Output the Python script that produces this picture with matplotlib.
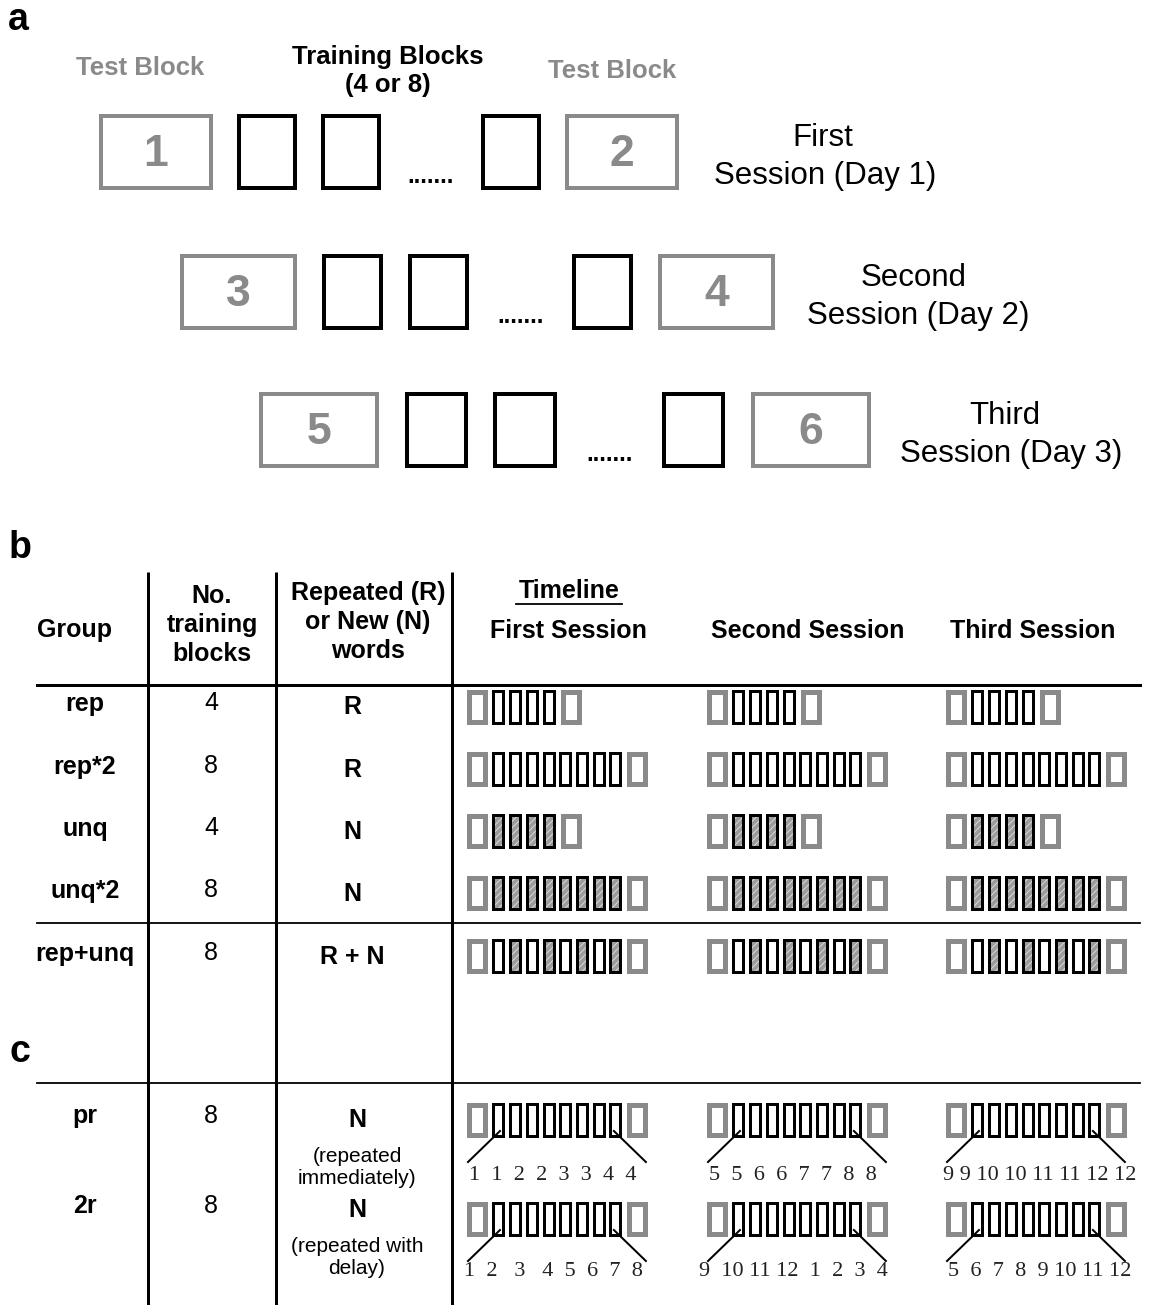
import matplotlib.pyplot as plt
from matplotlib.patches import Rectangle

plt.rcParams['font.family'] = ['Liberation Sans', 'DejaVu Sans']
plt.rcParams['hatch.linewidth'] = 0.7

GRAY = '#8a8a8a'
PX = 0.72  # points per pixel at dpi 100

# panel a
test_numbers = [(1, 2), (3, 4), (5, 6)]
session_names = ['First', 'Second', 'Third']
session_days = ['Session (Day 1)', 'Session (Day 2)', 'Session (Day 3)']

# panel b
groups = ['rep', 'rep*2', 'unq', 'unq*2', 'rep+unq']
n_blocks = [4, 8, 4, 8, 8]
word_type = ['R', 'R', 'N', 'N', 'R + N']
block_kind = ['RRRR', 'RRRRRRRR', 'NNNN', 'NNNNNNNN', 'RNRNRNRN']
timeline_headers = ['First Session', 'Second Session', 'Third Session']

# panel c
c_groups = ['pr', '2r']
c_blocks = [8, 8]
c_words = ['N', 'N']
c_notes = ['(repeated\nimmediately)', '(repeated with\ndelay)']
c_word_lists = [
    ['1  1  2  2  3  3  4  4', '5  5  6  6  7  7  8  8', '9 9 10 10 11 11 12 12'],
    ['1  2   3   4  5  6  7  8', '9  10 11 12  1  2  3  4', '5  6  7  8  9 10 11 12'],
]


def box(ax, x, y, w, h, color, lw_px, hatch=False):
    # x, y, w, h are outer extents in pixels
    if hatch:
        ax.add_patch(Rectangle((x + lw_px / 2, y + lw_px / 2), w - lw_px, h - lw_px,
                               facecolor='#9c9c9c', edgecolor='#d9d9d9',
                               hatch='/////', linewidth=0))
    ax.add_patch(Rectangle((x + lw_px / 2, y + lw_px / 2), w - lw_px, h - lw_px,
                           fill=False, edgecolor=color, linewidth=lw_px * PX))


def timeline(ax, x0, yc, kinds):
    h = 35
    y = yc - h / 2
    box(ax, x0, y, 21, h, GRAY, 5)
    xs = []
    for i, k in enumerate(kinds):
        bx = x0 + 25 + 16.7 * i
        box(ax, bx, y, 13, h, 'black', 3, hatch=(k == 'N'))
        xs.append(bx)
    box(ax, xs[-1] + 13 + 5, y, 21, h, GRAY, 5)
    return xs


fig = plt.figure(figsize=(11.51, 13.05), dpi=100)
ax = fig.add_axes([0, 0, 1, 1])
ax.set_xlim(0, 1151)
ax.set_ylim(1305, 0)
ax.axis('off')

# ---------- panel a ----------
ax.text(18, 20, 'a', fontsize=27, fontweight='bold', ha='center', va='center')
ax.text(140, 68, 'Test Block', fontsize=18.5, fontweight='bold', color=GRAY,
        ha='center', va='center')
ax.text(388, 71, 'Training Blocks\n(4 or 8)', fontsize=18.5, fontweight='bold',
        ha='center', va='center', linespacing=1.2)
ax.text(612, 71, 'Test Block', fontsize=18.5, fontweight='bold', color=GRAY,
        ha='center', va='center')

row_x = [99, 180, 259]
row_y = [114, 254, 392]
row_scale = [1.0, 1.026, 1.055]
for i, (t1, t2) in enumerate(test_numbers):
    x, y, h, s = row_x[i], row_y[i], 76, row_scale[i]
    tw, bw, gap = 114 * s, 60 * s, 24 * s
    box(ax, x, y, tw, h, GRAY, 4)
    ax.text(x + tw / 2, y + h / 2 + 2, str(t1), fontsize=32, fontweight='bold',
            color=GRAY, ha='center', va='center')
    x += tw + gap
    for j in range(2):
        box(ax, x, y, bw, h, 'black', 4)
        x += bw + gap
    ax.text(x + 26 * s, y + h - 2, '.......', fontsize=17, fontweight='bold',
            ha='center', va='bottom')
    x += 76 * s
    box(ax, x, y, bw, h, 'black', 4)
    x += bw + gap
    box(ax, x, y, tw, h, GRAY, 4)
    ax.text(x + tw / 2, y + h / 2 + 2, str(t2), fontsize=32, fontweight='bold',
            color=GRAY, ha='center', va='center')
    xr = x + tw + 146 - 3 * i
    ax.text(xr - 2 - 2 * i, y + 24, session_names[i], fontsize=22.5,
            ha='center', va='center')
    ax.text(xr, y + 62, session_days[i], fontsize=22.5, ha='center', va='center')

# ---------- panel b ----------
ax.text(20, 548, 'b', fontsize=27, fontweight='bold', ha='center', va='center')
for xv in [148, 276, 452]:
    ax.plot([xv, xv], [572, 1305], color='black', lw=3 * PX, solid_capstyle='butt')
ax.plot([37, 1140], [685, 685], color='black', lw=3 * PX)
ax.plot([37, 1140], [923, 923], color='black', lw=1.8 * PX)
ax.plot([37, 1140], [1083, 1083], color='black', lw=1.8 * PX)

hdr = dict(fontsize=18, fontweight='bold', ha='center', va='center')
ax.text(75, 630, 'Group', **hdr)
ax.text(212, 625, 'No.\ntraining\nblocks', linespacing=1.25, **hdr)
ax.text(368, 622, 'Repeated (R)\nor New (N)\nwords', linespacing=1.25, **hdr)
ax.text(569, 591, 'Timeline', **hdr)
ax.plot([516, 622], [604, 604], color='black', lw=1.8 * PX)
for sx, name in zip([568, 808, 1033], timeline_headers):
    ax.text(sx, 631, name, **hdr)

session_x = [467, 707, 946]
row_yc = [706.5, 769, 831, 893, 956]
for g, nb, wt, kinds, yc in zip(groups, n_blocks, word_type, block_kind, row_yc):
    ax.text(85, yc - 2, g, fontsize=18, fontweight='bold', ha='center', va='center')
    ax.text(211, yc - 3, str(nb), fontsize=18, ha='center', va='center')
    ax.text(352, yc + 1, wt, fontsize=18, fontweight='bold', ha='center', va='center')
    for sx in session_x:
        timeline(ax, sx, yc, kinds)

# ---------- panel c ----------
ax.text(20, 1052, 'c', fontsize=27, fontweight='bold', ha='center', va='center')
c_text_y = [1118, 1208]
c_row_yc = [1120, 1219]
for k, (g, nb, wd, note) in enumerate(zip(c_groups, c_blocks, c_words, c_notes)):
    ty, yc = c_text_y[k], c_row_yc[k]
    ax.text(85, ty - 2, g, fontsize=18, fontweight='bold', ha='center', va='center')
    ax.text(211, ty - 2, str(nb), fontsize=18, ha='center', va='center')
    ax.text(357, ty + 2, wd, fontsize=18, fontweight='bold', ha='center', va='center')
    ax.text(357, ty + 50, note, fontsize=15, ha='center', va='center', linespacing=1.2)
    for j, (sx, words) in enumerate(zip(session_x, c_word_lists[k])):
        xs = timeline(ax, sx, yc, 'R' * nb)
        ax.plot([xs[0] + 8, xs[0] - 24], [yc + 11, yc + 42], color='black', lw=2 * PX)
        ax.plot([xs[-1] + 5, xs[-1] + 37], [yc + 11, yc + 42], color='black', lw=2 * PX)
        ax.text(sx + 86 + 8 * (j == 2), yc + 55 - 2 * k, words, fontsize=16,
                family=['Liberation Serif'], ha='center', va='center', color='#222222')

fig.savefig('out.png', dpi=100)
